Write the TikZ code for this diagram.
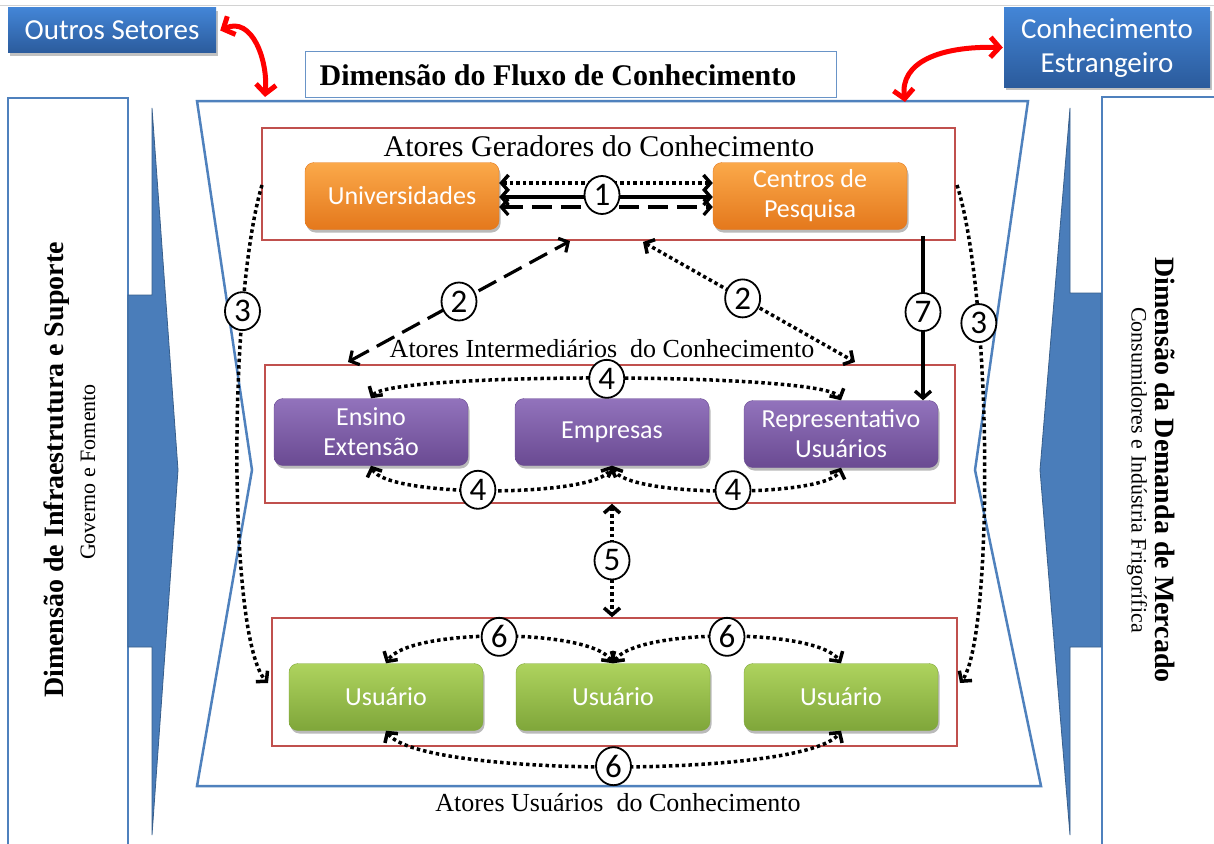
\documentclass[tikz,border=0pt]{standalone}
\usepackage{fontspec}
\setmainfont{Liberation Serif}
\newfontfamily\carl{Carlito}
\usetikzlibrary{arrows.meta,shadows,shapes.geometric,calc}
\definecolor{rbord}{HTML}{C0504D}
\definecolor{bbord}{HTML}{4F81BD}
\definecolor{orT}{HTML}{FBA94A}
\definecolor{orB}{HTML}{E4781C}
\definecolor{puT}{HTML}{9273BC}
\definecolor{puB}{HTML}{6A4A92}
\definecolor{grT}{HTML}{AED35E}
\definecolor{grB}{HTML}{7FA63A}
\definecolor{blT}{HTML}{4385D6}
\definecolor{blB}{HTML}{2B5B9C}
\definecolor{arrB}{HTML}{4A7DBA}
\begin{document}
\begin{tikzpicture}[x=1pt,y=-1pt,
  >={Straight Barb[length=7pt,width=16pt]},
  dotl/.style={line width=3.5pt, dash pattern=on 3.5pt off 3pt},
  dashl/.style={line width=3.2pt, dash pattern=on 20pt off 9pt},
  soll/.style={line width=3.4pt},
  redarr/.style={red, line width=5pt, {Straight Barb[length=9pt,width=20pt]}-{Straight Barb[length=9pt,width=20pt]}},
  num/.style={ellipse, draw, solid, line width=1.8pt, fill=white, minimum width=35pt, minimum height=38pt, inner sep=0pt, font=\carl\fontsize{33}{33}\selectfont},
  gbox/.style={rounded corners=9pt, minimum width=194pt, minimum height=67pt, inner sep=2pt, align=center, text=white, font=\carl\fontsize{26}{30}\selectfont, drop shadow={shadow xshift=1.5pt, shadow yshift=-3pt, opacity=.45, fill=black!60}},
  orbox/.style={gbox, top color=orT, bottom color=orB, draw=orB},
  pubox/.style={gbox, top color=puT, bottom color=puB, draw=puB},
  grbox/.style={gbox, top color=grT, bottom color=grB, draw=grB},
  labbox/.style={top color=blT, bottom color=blB, text=white, align=center, inner sep=0pt, drop shadow={shadow xshift=1.5pt, shadow yshift=-3pt, opacity=.4, fill=black!60}},
  redbox/.style={draw=rbord, line width=1.5pt, inner sep=0pt},
  serif30/.style={font=\fontsize{30}{32}\selectfont},
  serif26/.style={font=\fontsize{26}{28}\selectfont}
]
\useasboundingbox (0,0) rectangle (1214,843);
\fill[white] (0,0) rectangle (1214,843);
\draw[gray!35, line width=1pt] (0,6) -- (1214,6);

% side panels
\draw[bbord, line width=1.5pt, fill=white, drop shadow={shadow xshift=1pt, shadow yshift=1pt, opacity=.3}] (8,98) rectangle (128,860);
\draw[bbord, line width=1.5pt, fill=white, drop shadow={shadow xshift=-1pt, shadow yshift=1pt, opacity=.3}] (1102,97) rectangle (1230,860);
\node[rotate=90, font=\bfseries\fontsize{28}{30}\selectfont] (ldim) at (57,470) {Dimensão de Infraestrutura e Suporte};
\node[rotate=90, font=\fontsize{22}{24}\selectfont] (lsub) at (88,472) {Governo e Fomento};
\node[rotate=-90, font=\bfseries\fontsize{28}{30}\selectfont] (rdim) at (1165,470) {Dimensão da Demanda de Mercado};
\node[rotate=-90, font=\fontsize{22}{24}\selectfont] (rsub) at (1137,470) {Consumidores e Indústria Frigorífica};

% big arrows
\filldraw[fill=arrB, draw=arrB!75!black, line width=0.8pt] (128,295) -- (152,295) -- (152,108) -- (178,470) -- (152,835) -- (152,647) -- (128,647) -- cycle;
\filldraw[fill=arrB, draw=arrB!75!black, line width=0.8pt] (1101,293) -- (1070,293) -- (1070,108) -- (1040,470) -- (1070,835) -- (1070,647) -- (1101,647) -- cycle;

% hourglass
\draw[bbord, line width=2.5pt, line join=miter] (197,101) -- (1028,101) -- (975,470) -- (1041,786) -- (197,786) -- (252,470) -- cycle;
\coordinate (hgL) at (265,97);
\coordinate (hgR) at (905,102);

% title
\node[draw=bbord!85, line width=1pt, fill=white, minimum width=531pt, minimum height=45pt, inner sep=0pt] (titlebox) at (570.5,74.5) {};
\node[font=\bfseries\fontsize{30}{32}\selectfont, anchor=base] (title) at (558,85) {Dimensão do Fluxo de Conhecimento};

% label boxes
\node[labbox, minimum width=208pt, minimum height=45pt, font=\carl\fontsize{29}{32}\selectfont] (outros) at (112,30.5) {Outros Setores};
\node[labbox, minimum width=206pt, minimum height=79pt, font=\carl\fontsize{29}{34}\selectfont] (estr) at (1107,47.5) {Conhecimento\\Estrangeiro};

\draw[redarr] ([xshift=4pt]outros.east) .. controls (252,16) and (268,60) .. (hgL);
\draw[redarr] (hgR) .. controls (900,62) and (940,46) .. ([xshift=-1pt]estr.west);

% red group boxes
\node[redbox, minimum width=693pt, minimum height=112pt] (gen) at (608.5,184) {};
\node[redbox, minimum width=690pt, minimum height=138pt] (inter) at (610,434) {};
\node[redbox, minimum width=685pt, minimum height=128pt] (usr) at (614.5,682) {};
\node[serif30, anchor=base] (genlbl) at (599,156) {Atores Geradores do Conhecimento};
\node[serif26, anchor=base] (interlbl) at (602,357) {Atores Intermediários\ \ do Conhecimento};
\node[serif26, anchor=base] (usrlbl) at (618,811) {Atores Usuários\ \ do Conhecimento};

% actor boxes
\node[orbox] (uni) at (402,196) {Universidades};
\node[orbox] (cen) at (810,196) {Centros de\\Pesquisa};
\node[pubox] (ens) at (371,432) {Ensino\\Extensão};
\node[pubox] (emp) at (612,432) {Empresas};
\node[pubox] (rep) at (841,434) {Representativo\\Usuários};
\node[grbox] (u1) at (386,697) {Usuário};
\node[grbox] (u2) at (613,697) {Usuário};
\node[grbox] (u3) at (841,697) {Usuário};

% 1
\draw[dotl, <->] ([yshift=13pt]uni.east) -- ([yshift=13pt]cen.west);
\draw[soll, <->] ([yshift=-1pt]uni.east) -- ([yshift=-1pt]cen.west);
\draw[dashl, <->] ([yshift=-11pt]uni.east) -- ([yshift=-11pt]cen.west);
\node[num] (n1) at (602,195) {1};

% 2
\coordinate (a2s) at (348,362);
\coordinate (a2e) at (570,241);
\coordinate (b2s) at (643,242);
\coordinate (b2e) at (855,362);
\draw[dashl, <->] (a2s) -- (a2e);
\draw[dotl, <->] (b2s) -- (b2e);
\node[num] (n2a) at ($(a2s)!0.5!(a2e)$) {2};
\node[num] (n2b) at ($(b2s)!0.47!(b2e)$) {2};

% 7
\coordinate (a7) at (923,236);
\draw[soll, ->] (a7) -- (a7 |- rep.north);
\node[num] (n7) at (923,312) {7};

% 3
\coordinate (c3ls) at (262,185);
\coordinate (c3le) at (268,683);
\coordinate (c3rs) at (957,185);
\coordinate (c3re) at (960,683);
\draw[dotl, ->] (c3ls) .. controls (228,300) and (228,640) .. (c3le) node[num, pos=0.26] (n3a) {3};
\draw[dotl, ->] (c3rs) .. controls (993,300) and (993,640) .. (c3re) node[num, pos=0.28] (n3b) {3};

% 4
\draw[dotl, <->] (ens.north) .. controls (388,372) and (826,372) .. (rep.north) node[num, pos=0.5] (n4a) {4};
\draw[dotl, <->] (ens.south) .. controls (385,498) and (598,498) .. (emp.south) node[num, pos=0.46] (n4b) {4};
\draw[dotl, <->] (emp.south) .. controls (625,498) and (828,498) .. (rep.south) node[num, pos=0.52] (n4c) {4};

% 5
\draw[dotl, <->] (inter.south -| emp.south) -- (usr.north -| emp.south) node[num, midway] (n5) {5};

% 6
\draw[dotl, <->] (u2.north) .. controls (590,628) and (408,628) .. (u1.north) node[num, pos=0.5] (n6a) {6};
\draw[dotl, <->] (u2.north) .. controls (636,628) and (818,628) .. (u3.north) node[num, pos=0.5] (n6b) {6};
\draw[dotl, <->] (u1.south) .. controls (420,778) and (807,778) .. (u3.south) node[num, pos=0.5] (n6c) {6};
\end{tikzpicture}
\end{document}
